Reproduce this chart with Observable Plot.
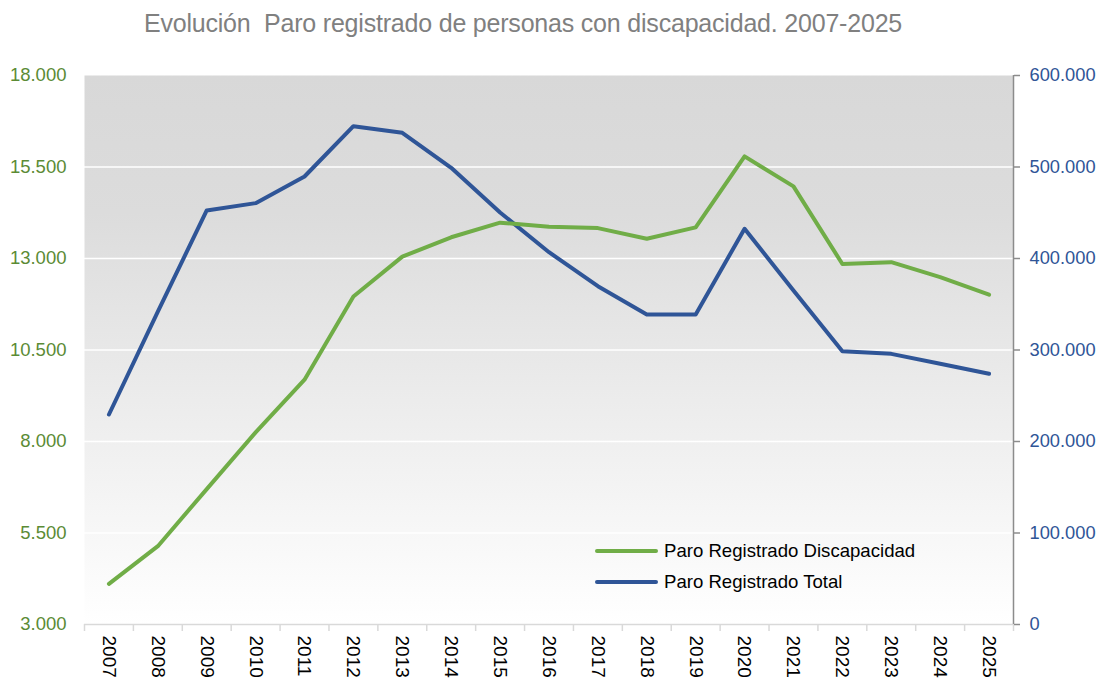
<!DOCTYPE html>
<html>
<head>
<meta charset="utf-8">
<script src="https://cdn.jsdelivr.net/npm/d3@7"></script>
<script src="https://cdn.jsdelivr.net/npm/@observablehq/plot@0.6"></script>
<style>
  body { margin: 0; background: #fff; font-family: "Liberation Sans", Arial, sans-serif; }
  #wrap { position: relative; width: 1098px; height: 682px; }
  #title { height: 50px; line-height: 46px; text-align: center; padding-right: 52px; font-size: 25px; color: #808080; white-space: nowrap; letter-spacing: -0.2px; }
  #legend { position: absolute; left: 595px; top: 535px; font-size: 18.6px; color: #000; }
  .li { display: flex; align-items: center; height: 31px; }
  .sw { width: 63px; height: 4px; border-radius: 2px; margin-right: 6px; }
</style>
</head>
<body>
<div id="wrap">
  <div id="title">Evolución&nbsp; Paro registrado de personas con discapacidad. 2007-2025</div>
  <div id="chart"></div>
  <div id="legend"></div>
</div>
<script>
const years = [2007, 2008, 2009, 2010, 2011, 2012, 2013, 2014, 2015, 2016, 2017, 2018, 2019, 2020, 2021, 2022, 2023, 2024, 2025];
const paroDiscapacidad = [4110, 5140, 6700, 8250, 9690, 11960, 13050, 13580, 13980, 13870, 13830, 13540, 13850, 15790, 14970, 12850, 12900, 12490, 12010];
const paroTotal = [229500, 342000, 452500, 460500, 489600, 544600, 537400, 499100, 450300, 406900, 369700, 338800, 338800, 432500, 365000, 298700, 295800, 284900, 274000];
const seriesNames = ["Paro Registrado Discapacidad", "Paro Registrado Total"];
const seriesColors = ["#70ad47", "#2f5597"];
const leftTicks = [3000, 5500, 8000, 10500, 13000, 15500, 18000];
const rightTicks = [0, 100000, 200000, 300000, 400000, 500000, 600000];
const leftDomain = [3000, 18000];
const rightDomain = [0, 600000];

const locale = d3.formatLocale({decimal: ",", thousands: ".", grouping: [3], currency: ["", " €"]});
const fmt = locale.format(",");
// map right-axis values into left-axis space
const toLeft = v => leftDomain[0] + (v - rightDomain[0]) / (rightDomain[1] - rightDomain[0]) * (leftDomain[1] - leftDomain[0]);
const toRight = v => rightDomain[0] + (v - leftDomain[0]) / (leftDomain[1] - leftDomain[0]) * (rightDomain[1] - rightDomain[0]);

const dataG = years.map((y, i) => ({year: y, v: paroDiscapacidad[i]}));
const dataB = years.map((y, i) => ({year: y, v: toLeft(paroTotal[i])}));
const edges = years.map(y => y - 0.5).concat([years[years.length - 1] + 0.5]);

const defs = () => {
  const g = d3.create("svg:defs");
  const lg = g.append("linearGradient").attr("id", "bg").attr("x1", 0).attr("y1", 0).attr("x2", 0).attr("y2", 1);
  lg.append("stop").attr("offset", "0%").attr("stop-color", "#d8d8d8");
  lg.append("stop").attr("offset", "25%").attr("stop-color", "#dcdcdc");
  lg.append("stop").attr("offset", "100%").attr("stop-color", "#ffffff");
  return g.node();
};

const chart = Plot.plot({
  width: 1098,
  height: 632,
  marginTop: 25,
  marginBottom: 58,
  marginLeft: 84,
  marginRight: 85,
  style: {fontFamily: "'Liberation Sans', Arial, sans-serif", background: "transparent"},
  x: {type: "linear", domain: [edges[0], edges[edges.length - 1]], label: null},
  y: {domain: leftDomain, label: null},
  marks: [
    defs,
    Plot.frame({fill: "url(#bg)", stroke: "none"}),
    Plot.ruleY(leftTicks.slice(1, -1), {stroke: "#ffffff", strokeWidth: 1.5}),
    Plot.ruleY([leftDomain[0]], {stroke: "#d9d9d9", strokeWidth: 1.5}),
    Plot.ruleX([edges[edges.length - 1]], {stroke: "#8c8c8c", strokeWidth: 1.5}),
    Plot.axisX({ticks: edges, tickFormat: () => "", tickSize: 7, stroke: "#d9d9d9", strokeWidth: 1.5, label: null}),
    Plot.axisX({ticks: years, tickFormat: d => String(d), tickSize: 0, tickPadding: 11, tickRotate: 90, fontSize: 19, fill: "#000", label: null}),
    Plot.axisY({ticks: leftTicks, tickFormat: fmt, tickSize: 0, tickPadding: 18, fontSize: 18.5, color: "#5b8b35", label: null}),
    Plot.axisY({anchor: "right", ticks: rightTicks.map(toLeft), tickFormat: d => fmt(Math.round(toRight(d))), tickSize: 0, tickPadding: 16, fontSize: 18.3, color: "#2f5597", label: null}),
    Plot.axisY({anchor: "right", ticks: rightTicks.map(toLeft), tickFormat: () => "", tickSize: 6, stroke: "#8c8c8c", strokeWidth: 1.5, label: null}),
    Plot.lineY(dataB, {x: "year", y: "v", stroke: seriesColors[1], strokeWidth: 4, strokeLinecap: "round", strokeLinejoin: "round"}),
    Plot.lineY(dataG, {x: "year", y: "v", stroke: seriesColors[0], strokeWidth: 4, strokeLinecap: "round", strokeLinejoin: "round"})
  ]
});
document.getElementById("chart").append(chart);

const legend = document.getElementById("legend");
seriesNames.forEach((n, i) => {
  const row = document.createElement("div");
  row.className = "li";
  row.innerHTML = `<div class="sw" style="background:${seriesColors[i]}"></div><span>${n}</span>`;
  legend.append(row);
});
</script>
</body>
</html>
